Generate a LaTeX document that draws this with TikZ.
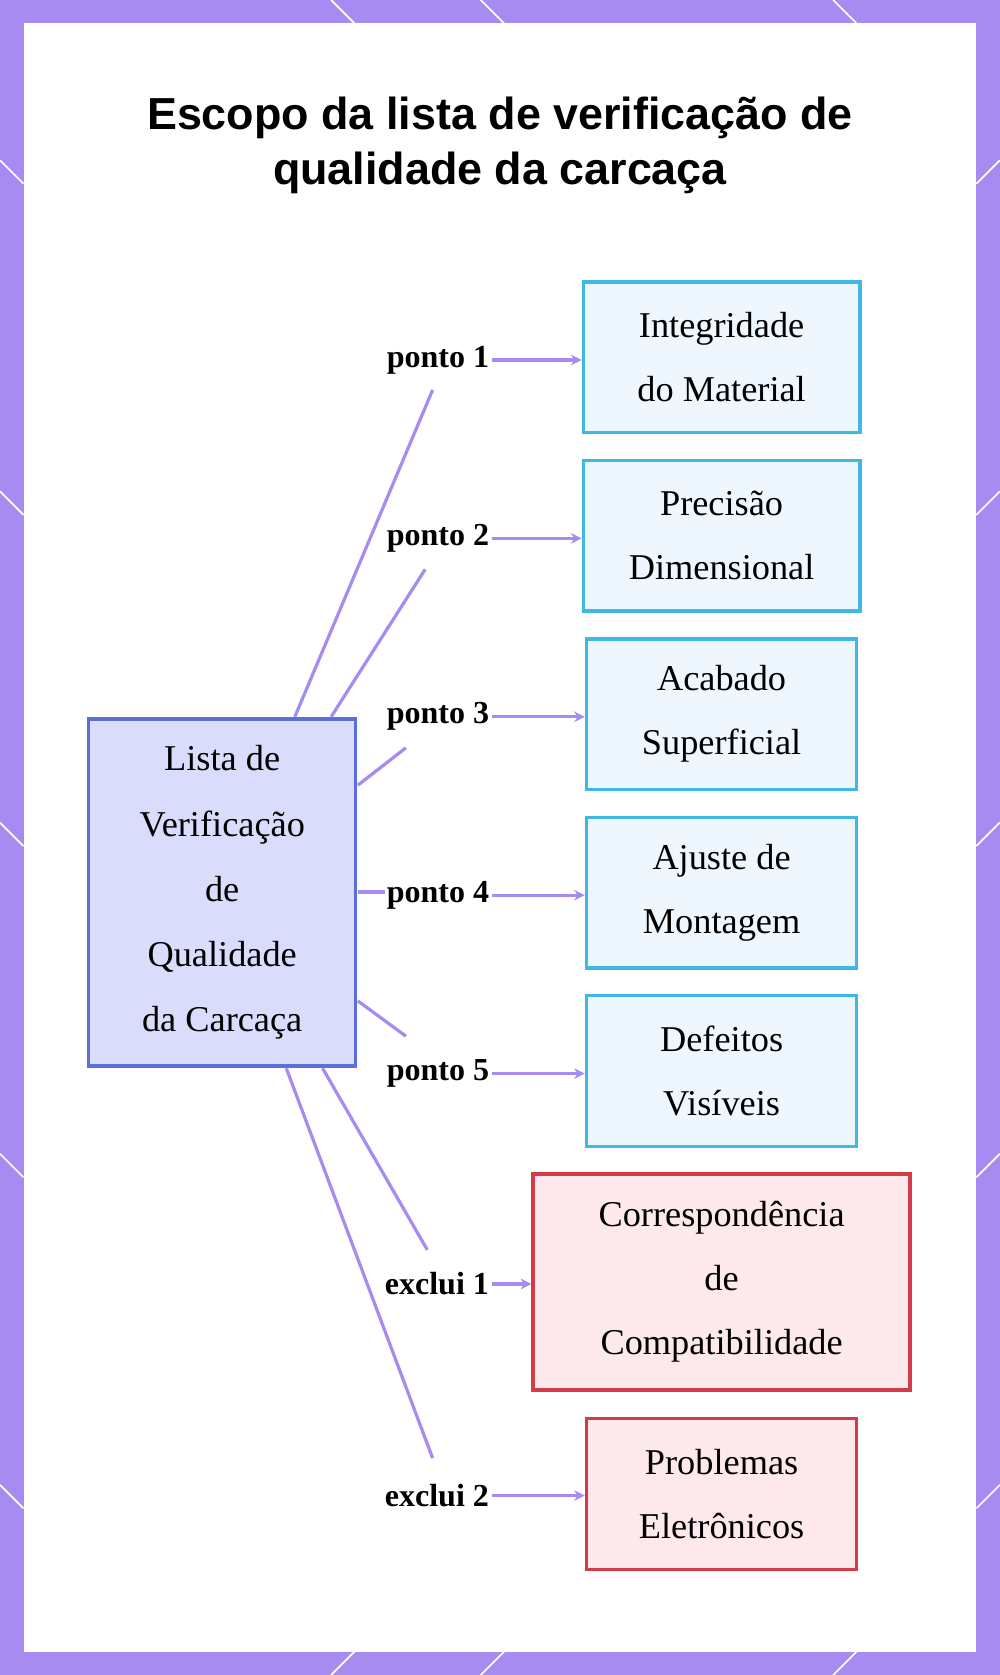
\documentclass[tikz,border=0pt]{standalone}
\usepackage{fontspec}
\setmainfont{Liberation Serif}
\newfontfamily\titlefont{Liberation Sans}
\usetikzlibrary{arrows.meta}
\definecolor{frame}{HTML}{A78BF0}
\definecolor{mainfill}{HTML}{D9DCFA}
\definecolor{mainline}{HTML}{5B6FD6}
\definecolor{bfill}{HTML}{EEF7FD}
\definecolor{bline}{HTML}{3FB8E6}
\definecolor{rfill}{HTML}{FDE8EC}
\definecolor{rline}{HTML}{D43A4A}
\begin{document}
\begin{tikzpicture}[x=0.5pt,y=-0.5pt,
 itembox/.style={draw=bline,fill=bfill,line width=1.6pt,align=center,font=\fontsize{17}{30}\selectfont,inner sep=0pt},
 exbox/.style={draw=rline,fill=rfill,line width=1.6pt,align=center,font=\fontsize{17}{30}\selectfont,inner sep=0pt},
 lbl/.style={font=\bfseries\fontsize{15}{18}\selectfont,inner sep=1pt,fill=white},
 conn/.style={draw=frame,line width=1.5pt},
 arr/.style={draw=frame,line width=1.5pt,-{Stealth[length=5pt,width=5pt]}}]
\useasboundingbox (0,0) rectangle (936,1568);
\fill[frame] (0,0) rectangle (936,1568);
\fill[white] (22,22) rectangle (914,1546);
\foreach \y in {150,460,770,1080,1390}{
 \draw[white,line width=0.8pt] (0,\y) -- (22,\y+22);
 \draw[white,line width=0.8pt] (914,\y+22) -- (936,\y);}
\foreach \x in {310,450,780}{
 \draw[white,line width=0.8pt] (\x,0) -- (\x+22,22);
 \draw[white,line width=0.8pt] (\x,1568) -- (\x+22,1546);}
\node[font=\titlefont\bfseries\fontsize{21}{26}\selectfont,align=center] (title) at (468,136) {Escopo da lista de verificação de\\qualidade da carcaça};
\node[draw=mainline,fill=mainfill,line width=1.6pt,minimum width=125pt,minimum height=162.5pt,align=center,font=\fontsize{17}{30.5}\selectfont,inner sep=0pt] (main) at (208,835.5) {Lista de\\Verificação\\de\\Qualidade\\da Carcaça};
\node[itembox,minimum width=129.5pt,minimum height=70.5pt] (b1) at (675.5,334.5) {Integridade\\do Material};
\node[itembox,minimum width=129.5pt,minimum height=70.5pt] (b2) at (675.5,501.5) {Precisão\\Dimensional};
\node[itembox,minimum width=126.5pt,minimum height=70.5pt] (b3) at (675.5,668.5) {Acabado\\Superficial};
\node[itembox,minimum width=126.5pt,minimum height=70.5pt] (b4) at (675.5,835.5) {Ajuste de\\Montagem};
\node[itembox,minimum width=126.5pt,minimum height=70.5pt] (b5) at (675.5,1002.5) {Defeitos\\Visíveis};
\node[exbox,minimum width=176.5pt,minimum height=101pt] (e1) at (675.5,1200) {Correspondência\\de\\Compatibilidade};
\node[exbox,minimum width=126.5pt,minimum height=70.5pt] (e2) at (675.5,1398.5) {Problemas\\Eletrônicos};
\coordinate (s1) at (276,671);
\coordinate (s2) at (310,671);
\coordinate (s3) at (335,735);
\coordinate (s4) at (335,835);
\coordinate (s5) at (335,937);
\coordinate (s6) at (302,1000);
\coordinate (s7) at (268,1000);
\draw[conn] (s1) -- (405,365);
\draw[conn] (s2) -- (398,533);
\draw[conn] (s3) -- (380,700);
\draw[conn] (s5) -- (380,970);
\draw[conn] (s6) -- (400,1170);
\draw[conn] (s7) -- (405,1365);
\draw[conn] (s4) -- (360,835);
\node[lbl] (l1) at (410,337) {ponto 1};
\node[lbl] (l2) at (410,504) {ponto 2};
\node[lbl] (l3) at (410,671) {ponto 3};
\node[lbl] (l4) at (410,838) {ponto 4};
\node[lbl] (l5) at (410,1005) {ponto 5};
\node[lbl] (l6) at (409,1202) {exclui 1};
\node[lbl] (l7) at (409,1400) {exclui 2};
\draw[arr] (l1.east) -- (l1.east -| b1.west);
\draw[arr] (l2.east) -- (l2.east -| b2.west);
\draw[arr] (l3.east) -- (l3.east -| b3.west);
\draw[arr] (l4.east) -- (l4.east -| b4.west);
\draw[arr] (l5.east) -- (l5.east -| b5.west);
\draw[arr] (l6.east) -- (l6.east -| e1.west);
\draw[arr] (l7.east) -- (l7.east -| e2.west);
\end{tikzpicture}
\end{document}
